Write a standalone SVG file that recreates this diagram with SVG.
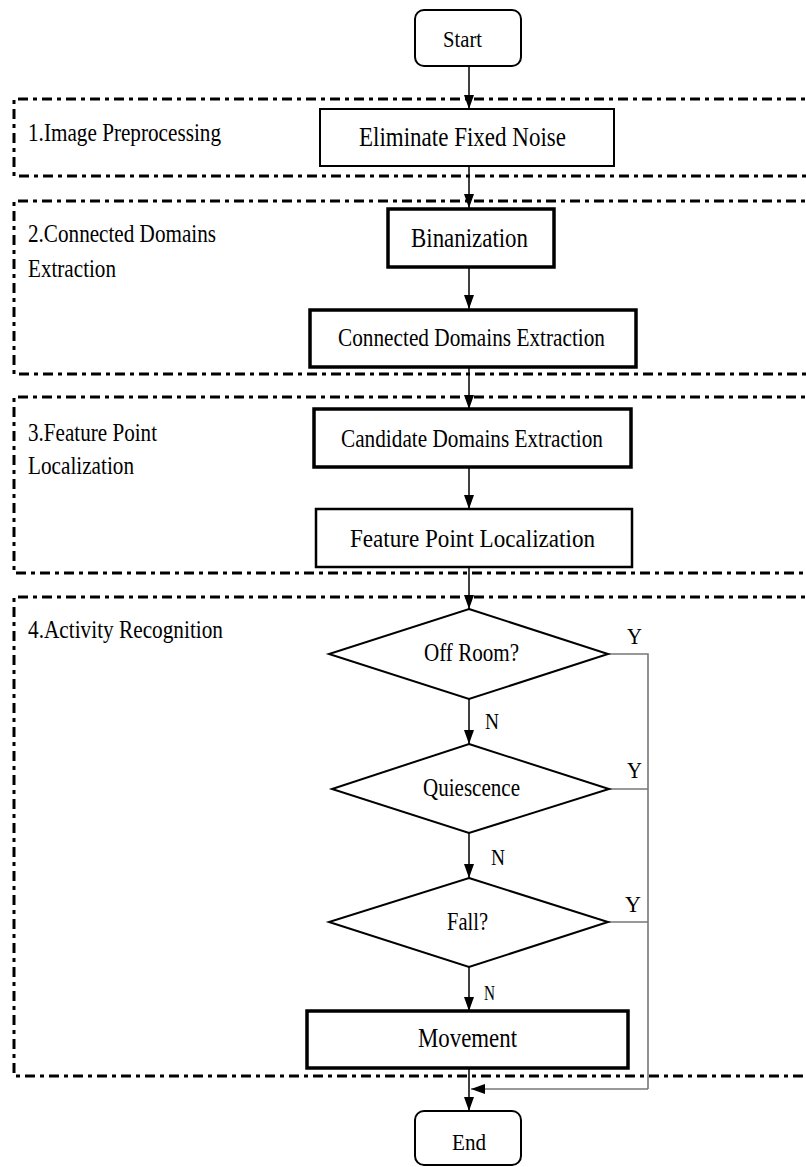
<svg xmlns="http://www.w3.org/2000/svg" width="806" height="1167" viewBox="0 0 806 1167" font-family="'Liberation Serif', 'Times New Roman', Times, serif">
  <style>
    text { fill: #000; }
    .stage { fill: none; stroke: #000; stroke-width: 3; stroke-dasharray: 10 5 4 5; }
    .box { fill: #fff; stroke: #000; }
    .term { fill: #fff; stroke: #000; stroke-width: 2; }
    .dec { fill: #fff; stroke: #000; stroke-width: 2; }
    .flow { fill: none; stroke: #000; stroke-width: 1.5; }
    .back { fill: none; stroke: #777; stroke-width: 1.6; }
  </style>
  <defs>
    <marker id="arrow" markerUnits="userSpaceOnUse" markerWidth="14" markerHeight="10" refX="14" refY="5" orient="auto">
      <path d="M0,0 L14,5 L0,10 z" fill="#000"/>
    </marker>
  </defs>

  <!-- stage frames (open on the right) -->
  <g id="stages" font-size="26">
    <g id="stage1">
      <path class="stage" d="M820,99 H14 V176 H820"/>
      <text x="28" y="141" textLength="193" lengthAdjust="spacingAndGlyphs">1.Image Preprocessing</text>
    </g>
    <g id="stage2">
      <path class="stage" d="M820,201 H14 V374 H820"/>
      <text x="28" y="242" textLength="188" lengthAdjust="spacingAndGlyphs">2.Connected Domains</text>
      <text x="28" y="277" textLength="88" lengthAdjust="spacingAndGlyphs">Extraction</text>
    </g>
    <g id="stage3">
      <path class="stage" d="M820,397 H14 V573 H820"/>
      <text x="28" y="441" textLength="129" lengthAdjust="spacingAndGlyphs">3.Feature Point</text>
      <text x="28" y="474" textLength="106" lengthAdjust="spacingAndGlyphs">Localization</text>
    </g>
    <g id="stage4">
      <path class="stage" d="M820,597 H14 V1076 H820"/>
      <text x="28" y="638" textLength="195" lengthAdjust="spacingAndGlyphs">4.Activity Recognition</text>
    </g>
  </g>

  <!-- connectors -->
  <g id="connectors" font-size="24">
    <line class="flow" x1="469" y1="66" x2="469" y2="109" marker-end="url(#arrow)"/>
    <line class="flow" x1="469" y1="166" x2="469" y2="208" marker-end="url(#arrow)"/>
    <line class="flow" x1="469" y1="267" x2="469" y2="309" marker-end="url(#arrow)"/>
    <line class="flow" x1="469" y1="366" x2="469" y2="409" marker-end="url(#arrow)"/>
    <line class="flow" x1="469" y1="467" x2="469" y2="509" marker-end="url(#arrow)"/>
    <line class="flow" x1="469" y1="567" x2="469" y2="609" marker-end="url(#arrow)"/>
    <line class="flow" x1="469" y1="699" x2="469" y2="744" marker-end="url(#arrow)"/>
    <line class="flow" x1="469" y1="833" x2="469" y2="878" marker-end="url(#arrow)"/>
    <line class="flow" x1="469" y1="967" x2="469" y2="1011" marker-end="url(#arrow)"/>
    <line class="flow" x1="469" y1="1068" x2="469" y2="1111" marker-end="url(#arrow)"/>
    <!-- "Y" branches merging on the right -->
    <path class="back" d="M608,654 H648 V1089"/>
    <path class="back" d="M609,789 H648"/>
    <path class="back" d="M608,922 H648"/>
    <path class="back" d="M648,1089 H471" marker-end="url(#arrow)"/>
    <text x="485" y="729" textLength="14" lengthAdjust="spacingAndGlyphs">N</text>
    <text x="491" y="865" textLength="14" lengthAdjust="spacingAndGlyphs">N</text>
    <text x="484" y="1000" font-size="22" textLength="11" lengthAdjust="spacingAndGlyphs">N</text>
    <text x="627" y="644" textLength="15" lengthAdjust="spacingAndGlyphs">Y</text>
    <text x="627" y="778" textLength="15" lengthAdjust="spacingAndGlyphs">Y</text>
    <text x="625" y="912" textLength="16" lengthAdjust="spacingAndGlyphs">Y</text>
  </g>

  <!-- nodes -->
  <g id="start">
    <rect class="term" x="415" y="10" width="106" height="56" rx="9"/>
    <text x="443" y="47" font-size="23" textLength="39" lengthAdjust="spacingAndGlyphs">Start</text>
  </g>
  <g id="eliminate-noise">
    <rect class="box" x="320" y="109" width="294" height="57" stroke-width="2"/>
    <text x="359" y="146" font-size="27" textLength="207" lengthAdjust="spacingAndGlyphs">Eliminate Fixed Noise</text>
  </g>
  <g id="binanization">
    <rect class="box" x="388" y="209" width="166" height="58" stroke-width="3.5"/>
    <text x="411" y="247" font-size="28" textLength="117" lengthAdjust="spacingAndGlyphs">Binanization</text>
  </g>
  <g id="connected-domains">
    <rect class="box" x="310" y="310" width="326" height="57" stroke-width="3.5"/>
    <text x="338" y="346" font-size="25" textLength="267" lengthAdjust="spacingAndGlyphs">Connected Domains Extraction</text>
  </g>
  <g id="candidate-domains">
    <rect class="box" x="314" y="409" width="317" height="58" stroke-width="3.5"/>
    <text x="341" y="447" font-size="25" textLength="262" lengthAdjust="spacingAndGlyphs">Candidate Domains Extraction</text>
  </g>
  <g id="feature-point">
    <rect class="box" x="316" y="509" width="316" height="58" stroke-width="2.5"/>
    <text x="350" y="547" font-size="26" textLength="245" lengthAdjust="spacingAndGlyphs">Feature Point Localization</text>
  </g>
  <g id="off-room">
    <polygon class="dec" points="469,609 608,654 469,699 329,654"/>
    <text x="424" y="661" font-size="26" textLength="95" lengthAdjust="spacingAndGlyphs">Off Room?</text>
  </g>
  <g id="quiescence">
    <polygon class="dec" points="469,744 609,789 469,833 332,789"/>
    <text x="423" y="796" font-size="26" textLength="97" lengthAdjust="spacingAndGlyphs">Quiescence</text>
  </g>
  <g id="fall">
    <polygon class="dec" points="469,878 608,922 469,967 329,922"/>
    <text x="447" y="930" font-size="26" textLength="41" lengthAdjust="spacingAndGlyphs">Fall?</text>
  </g>
  <g id="movement">
    <rect class="box" x="307" y="1011" width="321" height="57" stroke-width="3.5"/>
    <text x="418" y="1047" font-size="28" textLength="99" lengthAdjust="spacingAndGlyphs">Movement</text>
  </g>
  <g id="end">
    <rect class="term" x="415" y="1111" width="106" height="54" rx="9"/>
    <text x="452" y="1150" font-size="24" textLength="34" lengthAdjust="spacingAndGlyphs">End</text>
  </g>
</svg>
